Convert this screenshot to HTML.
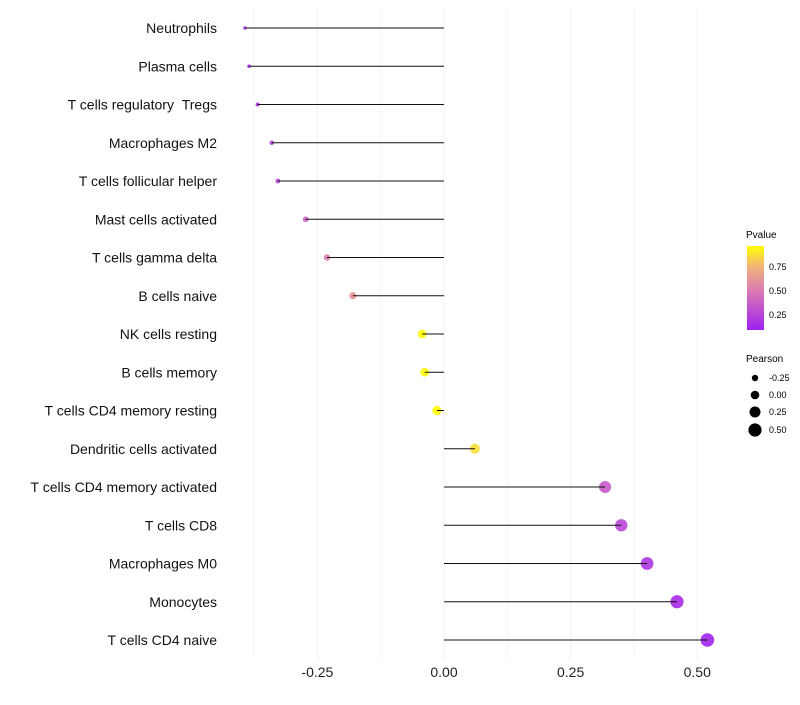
<!DOCTYPE html>
<html><head><meta charset="utf-8"><style>
body{margin:0;background:#fff;font-family:"Liberation Sans",sans-serif}
</style></head><body>
<svg id="chart" width="800" height="700" xmlns="http://www.w3.org/2000/svg">
<defs><linearGradient id="pg" x1="0" y1="1" x2="0" y2="0">
<stop offset="0" stop-color="#a020f0"/><stop offset="0.45" stop-color="#d977b5"/><stop offset="0.75" stop-color="#f0b27a"/><stop offset="1" stop-color="#ffff00"/></linearGradient></defs>
<g id="grid"></g><g id="dots"></g><g id="stems"></g><g id="labels"></g>
<g font-size="9">
<text x="746" y="238" font-size="10">Pvalue</text>
<rect x="747" y="246" width="17" height="84" fill="url(#pg)"/>
<text x="769" y="270">0.75</text><text x="769" y="294">0.50</text><text x="769" y="318">0.25</text>
</g>
<g font-size="9">
<text x="746" y="362" font-size="10">Pearson</text>
<circle cx="755" cy="378" r="3.2"/><text x="769" y="381">-0.25</text>
<circle cx="755" cy="395" r="4.3"/><text x="769" y="398">0.00</text>
<circle cx="755" cy="412" r="5.5"/><text x="769" y="415">0.25</text>
<circle cx="755" cy="430" r="6.6"/><text x="769" y="433">0.50</text>
</g>
</svg>
<script>
const cells=["Neutrophils","Plasma cells","T cells regulatory\u00a0\u00a0Tregs","Macrophages M2","T cells follicular helper","Mast cells activated","T cells gamma delta","B cells naive","NK cells resting","B cells memory","T cells CD4 memory resting","Dendritic cells activated","T cells CD4 memory activated","T cells CD8","Macrophages M0","Monocytes","T cells CD4 naive"];
const pearson=[-0.393,-0.385,-0.368,-0.34,-0.328,-0.273,-0.231,-0.18,-0.043,-0.038,-0.014,0.061,0.318,0.35,0.401,0.46,0.52];
const pvalue=[0.1,0.12,0.16,0.24,0.27,0.4,0.5,0.62,0.95,0.95,0.97,0.88,0.36,0.27,0.19,0.14,0.08];
const ticks=[-0.25,0,0.25,0.5];
const ns="http://www.w3.org/2000/svg";
const X=v=>444+v*506.5, Y=i=>28+i*38.25;
const g=document.getElementById('grid'),dg=document.getElementById('dots'),sg=document.getElementById('stems'),l=document.getElementById('labels');
function mk(t,a,p){const e=document.createElementNS(ns,t);for(const k in a)e.setAttribute(k,a[k]);p.appendChild(e);return e;}
function col(p){const t=Math.max(0,Math.min(1,(p-0.094)/(0.97-0.094)));
const st=[[0,[160,32,240]],[0.45,[217,119,181]],[0.75,[240,178,122]],[1,[255,255,0]]];
for(let i=1;i<st.length;i++)if(t<=st[i][0]){const a=st[i-1],b=st[i],f=(t-a[0])/(b[0]-a[0]);return 'rgb('+a[1].map((c,j)=>Math.round(c+(b[1][j]-c)*f)).join(',')+')';}return 'rgb(255,255,0)';}
for(let v=-0.375;v<=0.51;v+=0.125){const ln=mk('line',{x1:X(v),x2:X(v),y1:8,y2:660,stroke:'#f0f0f0','stroke-width':Math.abs((v*4)%1)<0.01?1:0.6},g);

}
ticks.forEach(t=>{const e=mk('text',{x:X(t),y:677,'text-anchor':'middle','font-size':14,fill:'#222'},l);e.textContent=t.toFixed(2);

});
cells.forEach((c,i)=>{
const t=mk('text',{x:217,y:Y(i)+5,'text-anchor':'end','font-size':14,fill:'#111'},l);t.textContent=c;


const r=Math.sqrt(Math.max(1,21.5+47.6*pearson[i]));
const d=mk('circle',{cx:X(pearson[i]),cy:Y(i),r:r,fill:col(pvalue[i]),'fill-opacity':0.9},dg);


const s=mk('line',{x1:X(0),x2:X(pearson[i]),y1:Y(i),y2:Y(i),stroke:'#111','stroke-width':1},sg);


});
</script>
</body></html>
